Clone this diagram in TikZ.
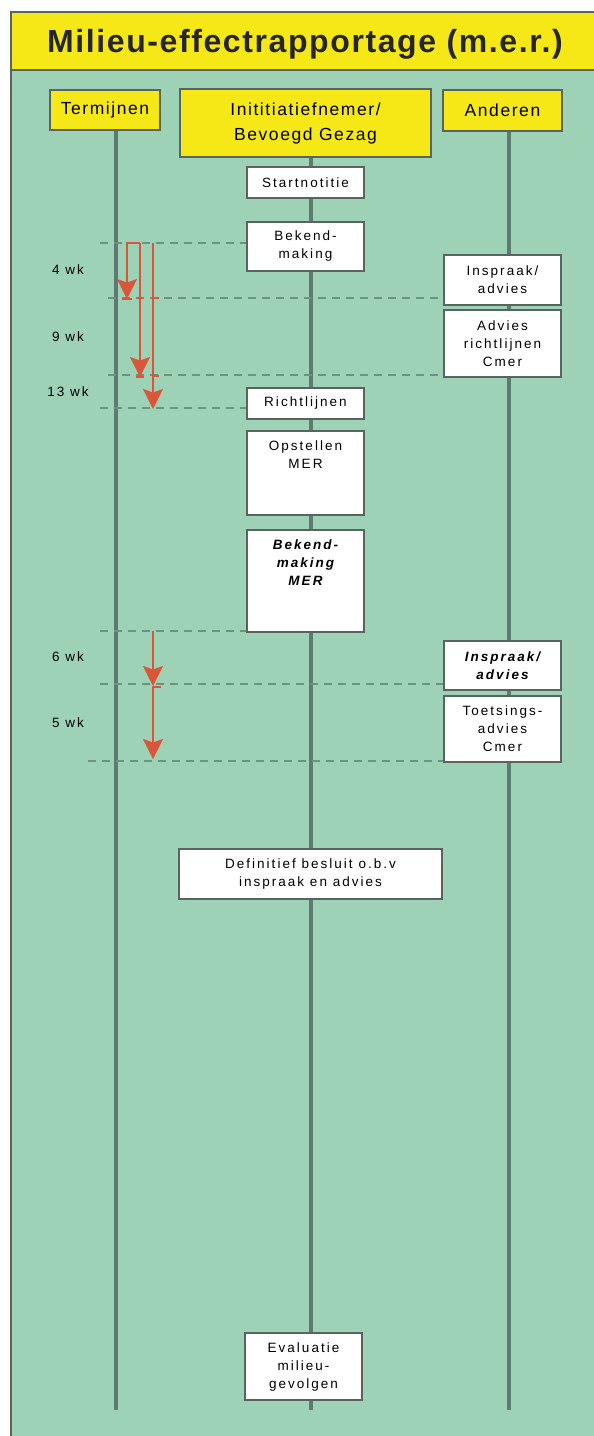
\documentclass[tikz,border=0pt]{standalone}
\usepackage{fontspec}
\usetikzlibrary{arrows.meta}
\newfontfamily\lsfont[LetterSpace=15]{Liberation Sans}
\newfontfamily\hdfont[LetterSpace=9]{Liberation Sans}
\newfontfamily\ttlfont[LetterSpace=5]{Liberation Sans}
\definecolor{bggreen}{RGB}{157,210,182}
\definecolor{headyellow}{RGB}{246,232,22}
\definecolor{boxline}{RGB}{90,100,95}
\definecolor{lifegray}{RGB}{95,122,112}
\definecolor{dashgray}{RGB}{108,146,131}
\definecolor{arrowred}{RGB}{218,86,56}
\begin{document}
\begin{tikzpicture}[x=1pt,y=-1pt,
  box/.style={draw=boxline, line width=1.2pt, fill=white, inner sep=0pt, align=center,
    font=\lsfont\fontsize{13.5}{18}\selectfont},
  head/.style={draw=boxline, line width=1.2pt, fill=headyellow, inner sep=0pt, align=center,
    font=\hdfont\fontsize{17.5}{25}\selectfont},
  boxtext/.style={inner sep=0pt, align=center, font=\lsfont\fontsize{13.5}{18}\selectfont},
  life/.style={draw=lifegray, line width=4pt},
  dline/.style={draw=dashgray, line width=1.4pt, dash pattern=on 8pt off 6pt},
  redarrow/.style={draw=arrowred, line width=1.8pt, -{Stealth[length=20pt,width=20pt,inset=3.5pt]}},
  redline/.style={draw=arrowred, line width=1.2pt},
  wk/.style={inner sep=0pt, font=\lsfont\fontsize{13.5}{15}\selectfont}
]
\useasboundingbox (0,0) rectangle (594,1436);
\fill[white] (0,0) rectangle (594,1436);
\fill[bggreen] (11,12) rectangle (594,1436);
\draw[boxline, line width=1.2pt] (11,12) -- (11,1436);
% title band
\path[fill=headyellow, draw=boxline, line width=1.2pt] (11,12) rectangle (596,70);
\node[inner sep=0pt, font=\ttlfont\bfseries\fontsize{32}{36}\selectfont, text=black!85] (title) at (305,44) {Milieu-effectrapportage (m.e.r.)};

% headers
\node[head, minimum width=110pt, minimum height=40pt] (term) at (105,110) {Termijnen};
\node[head, minimum width=251pt, minimum height=68pt] (init) at (305.5,123) {Inititiatiefnemer/\\Bevoegd Gezag};
\node[head, minimum width=119pt, minimum height=41pt] (and) at (502.5,110.5) {Anderen};

% lifeline ends
\coordinate (tend) at (116,1410);
\coordinate (mend) at (311,1410);
\coordinate (aend) at (509,1410);
\draw[life] (term.south -| tend) -- (tend);
\draw[life] (init.south -| mend) -- (mend);
\draw[life] (and.south -| aend) -- (aend);

% middle boxes
\node[box, minimum width=117pt, minimum height=31pt] (start) at (305.5,182.5) {Startnotitie};
\node[box, minimum width=117pt, minimum height=49pt] (bek) at (305.5,246.5) {Bekend-\\making};
\node[box, minimum width=117pt, minimum height=31pt] (rich) at (305.5,403.5) {Richtlijnen};
\node[box, minimum width=117pt, minimum height=84pt] (opst) at (305.5,473) {};
\node[boxtext, anchor=north] (opstt) at ([yshift=-10pt]opst.north) {Opstellen\\MER};
\node[box, minimum width=117pt, minimum height=102pt] (bekm) at (305.5,581) {};
\node[boxtext, anchor=north, font=\lsfont\bfseries\itshape\fontsize{13.5}{18}\selectfont] (bekmt) at ([yshift=-10pt]bekm.north) {Bekend-\\making\\MER};
\node[box, minimum width=263pt, minimum height=50pt] (def) at (310.5,874) {Definitief besluit o.b.v\\inspraak en advies};
\node[box, minimum width=117pt, minimum height=67pt] (eval) at (303.5,1366.5) {Evaluatie\\milieu-\\gevolgen};

% right boxes
\node[box, minimum width=117pt, minimum height=50pt] (insp1) at (502.5,280) {Inspraak/\\advies};
\node[box, minimum width=117pt, minimum height=67pt] (adv) at (502.5,343.5) {Advies\\richtlijnen\\Cmer};
\node[box, minimum width=117pt, minimum height=49pt, font=\lsfont\bfseries\itshape\fontsize{13.5}{18}\selectfont] (insp2) at (502.5,665.5) {Inspraak/\\advies};
\node[box, minimum width=117pt, minimum height=66pt] (toets) at (502.5,729) {Toetsings-\\advies\\Cmer};

% dashed time lines
\coordinate (d1) at (100,243);
\coordinate (d2) at (108,298);
\coordinate (d3) at (108,375);
\coordinate (d4) at (100,408);
\coordinate (d5) at (100,631);
\coordinate (d6) at (100,684);
\coordinate (d7) at (88,761);
\draw[dline] (d1) -- (d1 -| bek.west);
\draw[dline] (d2) -- (d2 -| insp1.west);
\draw[dline] (d3) -- (d3 -| adv.west);
\draw[dline] (d4) -- (d4 -| rich.west);
\draw[dline] (d5) -- (d5 -| bekm.west);
\draw[dline] (d6) -- (d6 -| insp2.west);
\draw[dline] (d7) -- (d7 -| toets.west);

% week labels
\node[wk] (w4) at (68,270) {4 wk};
\node[wk] (w9) at (68,337) {9 wk};
\node[wk] (w13) at (68,392) {13 wk};
\node[wk] (w6) at (68,657) {6 wk};
\node[wk] (w5) at (68,723) {5 wk};

% red arrows
\coordinate (a1s) at (140,243);
\coordinate (a1c) at (127,243);
\coordinate (a1e) at (127,299);
\coordinate (a2e) at (140,377);
\coordinate (a3s) at (153,243);
\coordinate (a3e) at (153,409);
\coordinate (a4s) at (153,631);
\coordinate (a4e) at (153,686);
\coordinate (a5e) at (153,759);
\draw[redarrow] (a1s) -- (a1c) -- (a1e);
\draw[redarrow] (a1s) -- (a2e);
\draw[redarrow] (a3s) -- (a3e);
\draw[redarrow] (a4s) -- (a4e);
\draw[redarrow] (a4e) -- (a5e);
% small ticks
\coordinate (t1) at (122,299);
\coordinate (t2) at (137,298);
\coordinate (t3) at (153,298);
\coordinate (t4) at (136,377);
\coordinate (t5) at (153,376);
\coordinate (t6) at (153,687);
\draw[redline] (t1) -- ++(10,0);
\draw[redline] (t2) -- ++(6,0);
\draw[redline] (t3) -- ++(6,0);
\draw[redline] (t4) -- ++(8,0);
\draw[redline] (t5) -- ++(6,0);
\draw[redline] (t6) -- ++(8,0);
\end{tikzpicture}
\end{document}
